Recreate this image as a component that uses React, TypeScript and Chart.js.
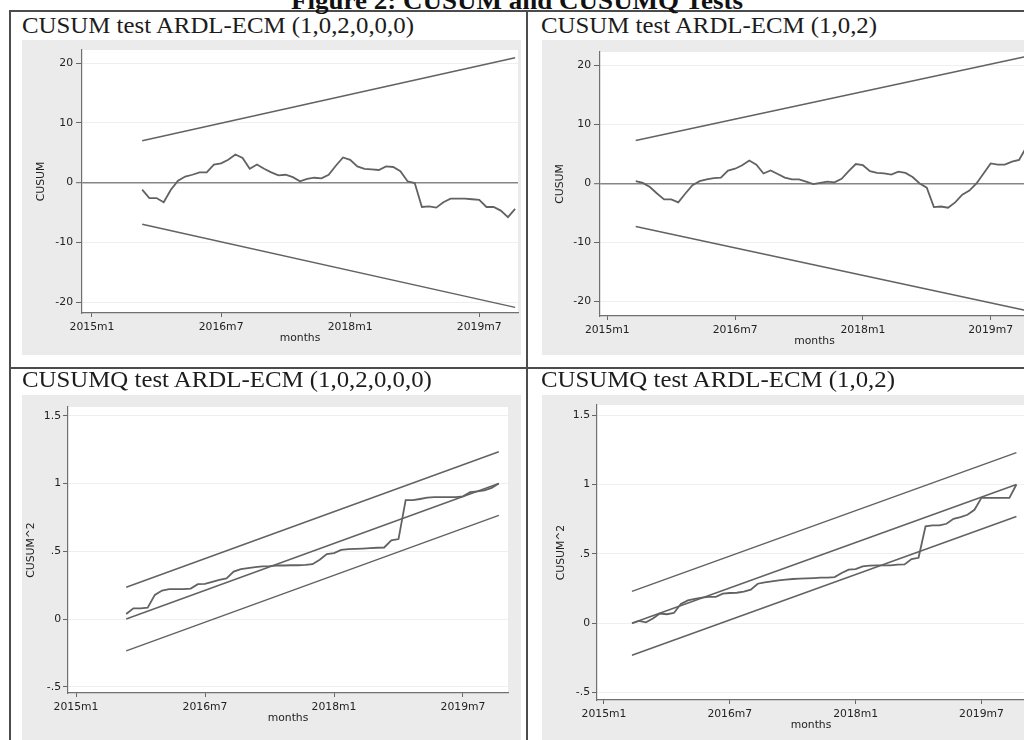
import React, { useEffect, useRef } from 'react';
import { Chart, registerables } from 'chart.js';

Chart.register(...registerables);

// ---------------- data ----------------
// months are counted from 2015m1 (= 0)
const xTickMonths = [0, 18, 36, 54];
const xTickLabels = ['2015m1', '2016m7', '2018m1', '2019m7'];

const cusumTickValues = [-20, -10, 0, 10, 20];
const cusumTickLabels = ['-20', '-10', '0', '10', '20'];
const cusumqTickValues = [-0.5, 0, 0.5, 1, 1.5];
const cusumqTickLabels = ['-.5', '0', '.5', '1', '1.5'];

const modelAFirstMonth = 7; // 2015m8, ARDL-ECM (1,0,2,0,0,0)
const modelBFirstMonth = 4; // 2015m5, ARDL-ECM (1,0,2)
const lastMonth = 59; // 2019m12

const cusumA = [
  -1.2, -2.6, -2.6, -3.3, -1.2, 0.3, 1.0, 1.3, 1.7, 1.7, 3.0, 3.2, 3.8, 4.7, 4.1, 2.3, 3.0, 2.3,
  1.7, 1.2, 1.3, 0.9, 0.2, 0.6, 0.8, 0.7, 1.3, 2.8, 4.2, 3.8, 2.7, 2.3, 2.2, 2.1, 2.7, 2.6, 1.9,
  0.2, -0.1, -4.1, -4.0, -4.2, -3.3, -2.7, -2.7, -2.7, -2.8, -2.9, -4.1, -4.1, -4.7, -5.8, -4.4,
];
const cusumAUpper = [7.0, 20.9];
const cusumALower = [-7.0, -20.9];

const cusumB = [
  0.4, 0.1, -0.6, -1.7, -2.7, -2.7, -3.2, -1.7, -0.3, 0.4, 0.7, 0.9, 1.0, 2.2, 2.5, 3.1, 3.9, 3.2,
  1.7, 2.2, 1.6, 1.0, 0.7, 0.7, 0.3, -0.1, 0.1, 0.3, 0.2, 0.8, 2.1, 3.3, 3.1, 2.1, 1.8, 1.7, 1.5,
  2.0, 1.8, 1.1, 0.0, -0.7, -4.0, -3.9, -4.1, -3.2, -1.9, -1.2, 0.0, 1.7, 3.4, 3.2, 3.2, 3.7, 4.0,
  6.1,
];
const cusumBUpper = [7.3, 21.5];
const cusumBLower = [-7.3, -21.5];

const cusumqA = [
  0.037, 0.079, 0.079, 0.084, 0.178, 0.21, 0.22, 0.22, 0.22, 0.225, 0.257, 0.26, 0.274, 0.289, 0.3,
  0.35, 0.368, 0.375, 0.383, 0.388, 0.39, 0.395, 0.395, 0.397, 0.397, 0.4, 0.405, 0.437, 0.48,
  0.486, 0.51, 0.516, 0.518, 0.52, 0.523, 0.526, 0.528, 0.58, 0.59, 0.877, 0.877, 0.886, 0.896,
  0.9, 0.9, 0.9, 0.9, 0.906, 0.936, 0.943, 0.95, 0.968, 1.0,
];
const cusumqACenter = [0, 1];
const cusumqAUpper = [0.235, 1.235];
const cusumqALower = [-0.235, 0.765];

const cusumqB = [
  0.0, 0.017, 0.007, 0.034, 0.07, 0.065, 0.074, 0.14, 0.165, 0.175, 0.185, 0.19, 0.19, 0.213,
  0.218, 0.22, 0.228, 0.242, 0.285, 0.295, 0.302, 0.309, 0.314, 0.319, 0.321, 0.324, 0.326, 0.329,
  0.329, 0.333, 0.362, 0.386, 0.39, 0.41, 0.415, 0.417, 0.417, 0.417, 0.422, 0.424, 0.463, 0.472,
  0.698, 0.705, 0.705, 0.717, 0.753, 0.765, 0.782, 0.818, 0.904, 0.904, 0.904, 0.904, 0.904, 1.0,
];
const cusumqBCenter = [0, 1];
const cusumqBUpper = [0.23, 1.23];
const cusumqBLower = [-0.23, 0.77];

// ---------------- helpers ----------------
const monthsFrom = (first: number, count: number) => Array.from({ length: count }, (_, i) => first + i);
const toPoints = (months: number[], vals: number[]) => vals.map((v, i) => ({ x: months[i], y: v }));

const LINE = '#626262';
const FONT = { family: "'DejaVu Sans', sans-serif", size: 10.8 };
const TEXT = '#222';
const XH = 42;

const series = (months: number[], vals: number[], w = 1.8) => ({
  data: toPoints(months, vals),
  borderColor: LINE,
  borderWidth: w,
  pointRadius: 0,
  fill: false,
  tension: 0,
});

const plotBg = {
  id: 'plotBg',
  beforeDraw(chart: any) {
    const { ctx, chartArea: a } = chart;
    ctx.save();
    ctx.fillStyle = '#ffffff';
    ctx.fillRect(a.left, a.top, a.right - a.left, a.bottom - a.top);
    ctx.restore();
  },
};

type Geo = {
  left: number; top: number; width: number; height: number;
  area: { left: number; top: number; right: number; bottom: number };
  xMin: number; xMax: number; yMin: number; yMax: number;
  yTitleX: number; yTickLen: number; yTickPad: number;
};

function StataChart({ geo, datasets, yTicks, yLabels, yTitle, zeroLine }: any) {
  const ref = useRef<HTMLCanvasElement>(null);
  const g: Geo = geo;
  useEffect(() => {
    const chart = new Chart(ref.current as HTMLCanvasElement, {
      type: 'line',
      data: { datasets },
      options: {
        animation: false,
        responsive: false,
        maintainAspectRatio: false,
        devicePixelRatio: 1,
        events: [],
        layout: {
          padding: {
            left: 0,
            top: g.area.top - g.top,
            right: g.left + g.width - g.area.right,
            bottom: g.top + g.height - g.area.bottom - XH,
          },
        },
        plugins: { legend: { display: false }, tooltip: { enabled: false } },
        scales: {
          x: {
            type: 'linear',
            min: g.xMin,
            max: g.xMax,
            afterBuildTicks: (s: any) => {
              s.ticks = xTickMonths.map((v) => ({ value: v }));
            },
            ticks: {
              autoSkip: false,
              maxRotation: 0,
              padding: 4,
              color: TEXT,
              font: FONT,
              callback: (_v: any, i: number) => xTickLabels[i],
            },
            grid: { drawOnChartArea: false, tickLength: 4, color: '#666', tickWidth: 1 },
            border: { color: '#707070', width: 1.2 },
            title: { display: true, text: 'months', color: TEXT, font: FONT, padding: { top: 0, bottom: 10 } },
            afterFit: (s: any) => {
              s.height = XH;
              s.paddingLeft = 0;
              s.paddingRight = 0;
              s.paddingTop = 0;
              s.paddingBottom = 0;
            },
          },
          y: {
            type: 'linear',
            min: g.yMin,
            max: g.yMax,
            afterBuildTicks: (s: any) => {
              s.ticks = yTicks.map((v: number) => ({ value: v }));
            },
            ticks: {
              autoSkip: false,
              padding: g.yTickPad,
              color: TEXT,
              font: FONT,
              callback: (_v: any, i: number) => yLabels[i],
            },
            grid: {
              color: (c: any) => (zeroLine && c.tick && c.tick.value === 0 ? '#858585' : '#efefef'),
              lineWidth: (c: any) => (zeroLine && c.tick && c.tick.value === 0 ? 1.4 : 1),
              tickColor: '#666',
              tickWidth: 1,
              tickLength: g.yTickLen,
            },
            border: { color: '#707070', width: 1.2 },
            title: {
              display: true,
              text: yTitle,
              color: TEXT,
              font: FONT,
              padding: { top: g.yTitleX - g.left - 6.5, bottom: 0 },
            },
            afterFit: (s: any) => {
              s.width = g.area.left - g.left;
              s.paddingLeft = 0;
              s.paddingRight = 0;
              s.paddingTop = 0;
              s.paddingBottom = 0;
            },
          },
        },
      } as any,
      plugins: [plotBg],
    });
    return () => chart.destroy();
  }, []);
  return (
    <canvas
      ref={ref}
      width={g.width}
      height={g.height}
      style={{ position: 'absolute', left: g.left, top: g.top, width: g.width, height: g.height }}
    />
  );
}

const titleStyle = (left: number, top: number): React.CSSProperties => ({
  position: 'absolute',
  left,
  top,
  fontFamily: "'Liberation Serif', 'Times New Roman', serif",
  fontSize: 23,
  lineHeight: '23px',
  color: '#1c1c1c',
  whiteSpace: 'nowrap',
  transform: 'scaleX(1.08)',
  transformOrigin: 'left top',
});

const grayStyle = (l: number, t: number, r: number, b: number): React.CSSProperties => ({
  position: 'absolute',
  left: l,
  top: t,
  width: r - l,
  height: b - t,
  background: '#ebebeb',
});

const lineStyle = (l: number, t: number, w: number, h: number): React.CSSProperties => ({
  position: 'absolute',
  left: l,
  top: t,
  width: w,
  height: h,
  background: '#4c4c4c',
});

export default function App() {
  const mA = monthsFrom(modelAFirstMonth, cusumA.length);
  const mB = monthsFrom(modelBFirstMonth, cusumB.length);
  const mqA = monthsFrom(modelAFirstMonth, cusumqA.length);
  const mqB = monthsFrom(modelBFirstMonth, cusumqB.length);
  const endsA = [modelAFirstMonth, lastMonth];
  const endsB = [modelBFirstMonth, lastMonth];

  const geoTL: Geo = {
    left: 22, top: 40, width: 499, height: 330,
    area: { left: 82, top: 50, right: 518, bottom: 313 },
    xMin: -1.39, xMax: 59.4, yMin: -21.84, yMax: 22.18,
    yTitleX: 41.7, yTickLen: 6, yTickPad: 3,
  };
  const geoTR: Geo = {
    left: 542, top: 40, width: 492, height: 330,
    area: { left: 600, top: 52, right: 1029, bottom: 316 },
    xMin: -1.03, xMax: 59.4, yMin: -22.44, yMax: 22.27,
    yTitleX: 560, yTickLen: 6, yTickPad: 3,
  };
  const geoBL: Geo = {
    left: 22, top: 395, width: 499, height: 350,
    area: { left: 68, top: 407, right: 508, bottom: 693 },
    xMin: -1.12, xMax: 60.28, yMin: -0.546, yMax: 1.565,
    yTitleX: 31.7, yTickLen: 5, yTickPad: 2,
  };
  const geoBR: Geo = {
    left: 542, top: 395, width: 492, height: 350,
    area: { left: 597, top: 405, right: 1025, bottom: 700 },
    xMin: -1.0, xMax: 60.23, yMin: -0.553, yMax: 1.573,
    yTitleX: 561.7, yTickLen: 5, yTickPad: 2,
  };

  return (
    <div style={{ position: 'fixed', left: 0, top: 0, width: 1024, height: 740, overflow: 'hidden', background: '#fff' }}>
      {/* gray graph regions */}
      <div style={grayStyle(22, 40, 521, 355)} />
      <div style={grayStyle(542, 40, 1034, 355)} />
      <div style={grayStyle(22, 395, 521, 745)} />
      <div style={grayStyle(542, 395, 1034, 745)} />

      <StataChart
        geo={geoTL}
        yTicks={cusumTickValues}
        yLabels={cusumTickLabels}
        yTitle="CUSUM"
        zeroLine
        datasets={[series(mA, cusumA), series(endsA, cusumAUpper, 1.5), series(endsA, cusumALower, 1.5)]}
      />
      <StataChart
        geo={geoTR}
        yTicks={cusumTickValues}
        yLabels={cusumTickLabels}
        yTitle="CUSUM"
        zeroLine
        datasets={[series(mB, cusumB), series(endsB, cusumBUpper, 1.5), series(endsB, cusumBLower, 1.5)]}
      />
      <StataChart
        geo={geoBL}
        yTicks={cusumqTickValues}
        yLabels={cusumqTickLabels}
        yTitle="CUSUM^2"
        zeroLine={false}
        datasets={[
          series(mqA, cusumqA),
          series(endsA, cusumqAUpper, 1.5),
          series(endsA, cusumqACenter, 1.5),
          series(endsA, cusumqALower, 1.5),
        ]}
      />
      <StataChart
        geo={geoBR}
        yTicks={cusumqTickValues}
        yLabels={cusumqTickLabels}
        yTitle="CUSUM^2"
        zeroLine={false}
        datasets={[
          series(mqB, cusumqB),
          series(endsB, cusumqBUpper, 1.5),
          series(endsB, cusumqBCenter, 1.5),
          series(endsB, cusumqBLower, 1.5),
        ]}
      />

      {/* panel borders */}
      <div style={lineStyle(9, 10, 1100, 2)} />
      <div style={lineStyle(9, 10, 2, 800)} />
      <div style={lineStyle(526, 10, 2, 800)} />
      <div style={lineStyle(9, 367, 1100, 2)} />

      {/* panel titles */}
      <div style={titleStyle(22, 14)}>CUSUM test ARDL-ECM (1,0,2,0,0,0)</div>
      <div style={titleStyle(541, 14)}>CUSUM test ARDL-ECM (1,0,2)</div>
      <div style={titleStyle(22, 367.5)}>CUSUMQ test ARDL-ECM (1,0,2,0,0,0)</div>
      <div style={titleStyle(541, 367.5)}>CUSUMQ test ARDL-ECM (1,0,2)</div>

      {/* figure caption, cropped at the top */}
      <div
        style={{
          position: 'absolute',
          left: 517,
          top: -12.5,
          fontFamily: "'Liberation Serif', 'Times New Roman', serif",
          fontWeight: 'bold',
          fontSize: 25,
          lineHeight: '25px',
          color: '#111',
          whiteSpace: 'nowrap',
          transform: 'translateX(-50%) scaleX(1.08)',
        }}
      >
        Figure 2: CUSUM and CUSUMQ Tests
      </div>
    </div>
  );
}
